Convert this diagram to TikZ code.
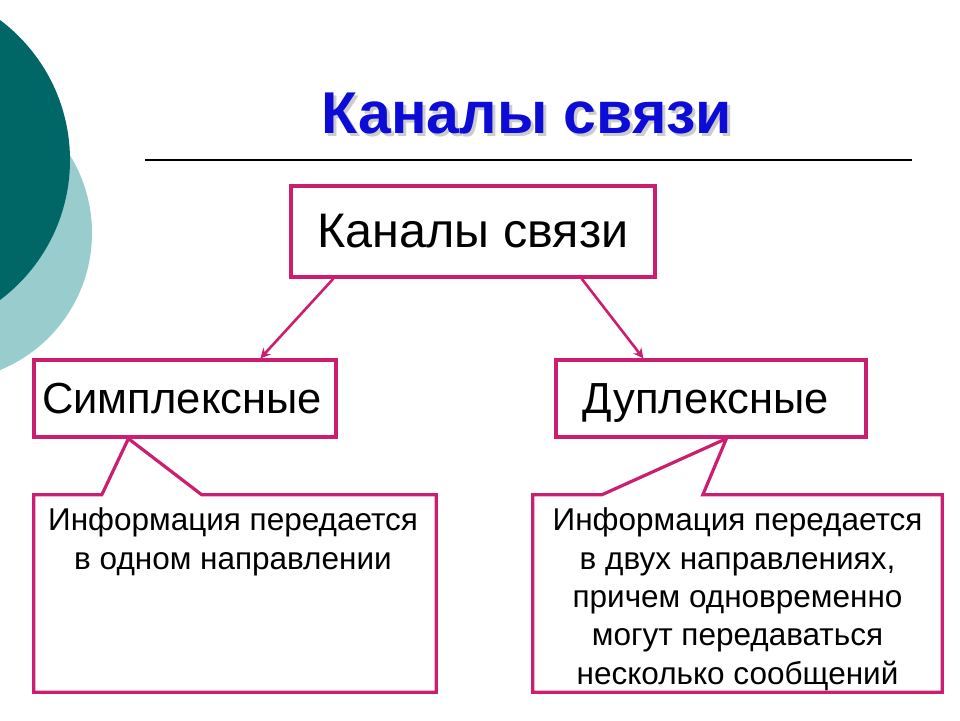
\documentclass[tikz,border=0pt]{standalone}
\usepackage{fontspec}
\setmainfont{Liberation Sans}
\usetikzlibrary{calc,arrows.meta}
\definecolor{chanpink}{RGB}{204,30,110}
\definecolor{titleblue}{RGB}{12,12,214}
\definecolor{darkteal}{RGB}{0,102,102}
\definecolor{lightteal}{RGB}{153,204,204}
\tikzset{
  chanbox/.style={draw=chanpink, line width=3.2pt, inner sep=0pt},
  chanarrow/.style={draw=chanpink, line width=2.6pt, -{Stealth[length=10pt,width=10pt]}},
  callout/.style={draw=chanpink, line width=3.2pt, line join=miter},
  notetext/.style={align=center, font=\fontsize{31.5}{38.3}\selectfont, inner sep=0pt},
}

\begin{document}
\begin{tikzpicture}[x=1pt, y=-1pt]
    \useasboundingbox (0,0) rectangle (960,720);
    \clip (0,0) rectangle (960,720);
    % background circles
    \fill[lightteal] (-56,233) circle[radius=148];
    \fill[darkteal] (-105,160) circle[radius=175];
    % title
    \node[text=gray!40, font=\fontsize{59}{64}\bfseries] at (530,116) {Каналы связи};
    \node (title) [text=titleblue, font=\fontsize{59}{64}\bfseries] at (527,113) {Каналы связи};
    \coordinate (rule_l) at (145,160);
    \coordinate (rule_r) at (912,160);
    \draw[line width=1.2pt] (rule_l) -- (rule_r);
    % define boxes
    \node (top) [chanbox, minimum width=364pt, minimum height=91pt,
        font=\fontsize{48.5}{54}\selectfont] at (473,231.5) {Каналы связи};
    \node (simplex) [chanbox, minimum width=302pt, minimum height=77pt, text depth=0pt,
        font=\fontsize{43.5}{48}\selectfont] at (185,398.5) {\hspace*{-6pt}Симплексные};
    \node (duplex) [chanbox, minimum width=310pt, minimum height=77pt, text depth=0pt,
        font=\fontsize{43.5}{48}\selectfont] at (711,398.5) {\hspace*{-10pt}Дуплексные};
    % notes
    \node (simplexnote) [minimum width=402pt, minimum height=197pt, inner sep=0pt] at (235,593.5) {};
    \node (duplexnote) [minimum width=409pt, minimum height=197pt, inner sep=0pt] at (737.5,593.5) {};
    \node (simplextext) [notetext, anchor=north] at ($(simplexnote.north)+(-2,13)$)
        {Информация передается\\в одном направлении};
    \node (duplextext) [notetext, anchor=north] at ($(duplexnote.north)+(0,13)$)
        {Информация передается\\в двух направлениях,\\причем одновременно\\могут передаваться\\несколько сообщений};
    % arrows
    \draw[chanarrow] ($(top.south west)+(44,0)$) -- ($(simplex.north west)+(228,0)$);
    \draw[chanarrow] ($(top.south east)+(-75,0)$) -- ($(duplex.north west)+(89,0)$);
    % callout outlines
    \draw[callout] ($(simplexnote.north west)+(68,0)$) -- ($(simplex.south west)+(96,0)$)
        -- ($(simplexnote.north west)+(168,0)$) -- (simplexnote.north east)
        -- (simplexnote.south east) -- (simplexnote.south west)
        -- (simplexnote.north west) -- cycle;
    \draw[callout] ($(duplexnote.north west)+(69,0)$) -- ($(duplex.south west)+(172,0)$)
        -- ($(duplexnote.north west)+(170,0)$) -- (duplexnote.north east)
        -- (duplexnote.south east) -- (duplexnote.south west)
        -- (duplexnote.north west) -- cycle;
\end{tikzpicture}
\end{document}
